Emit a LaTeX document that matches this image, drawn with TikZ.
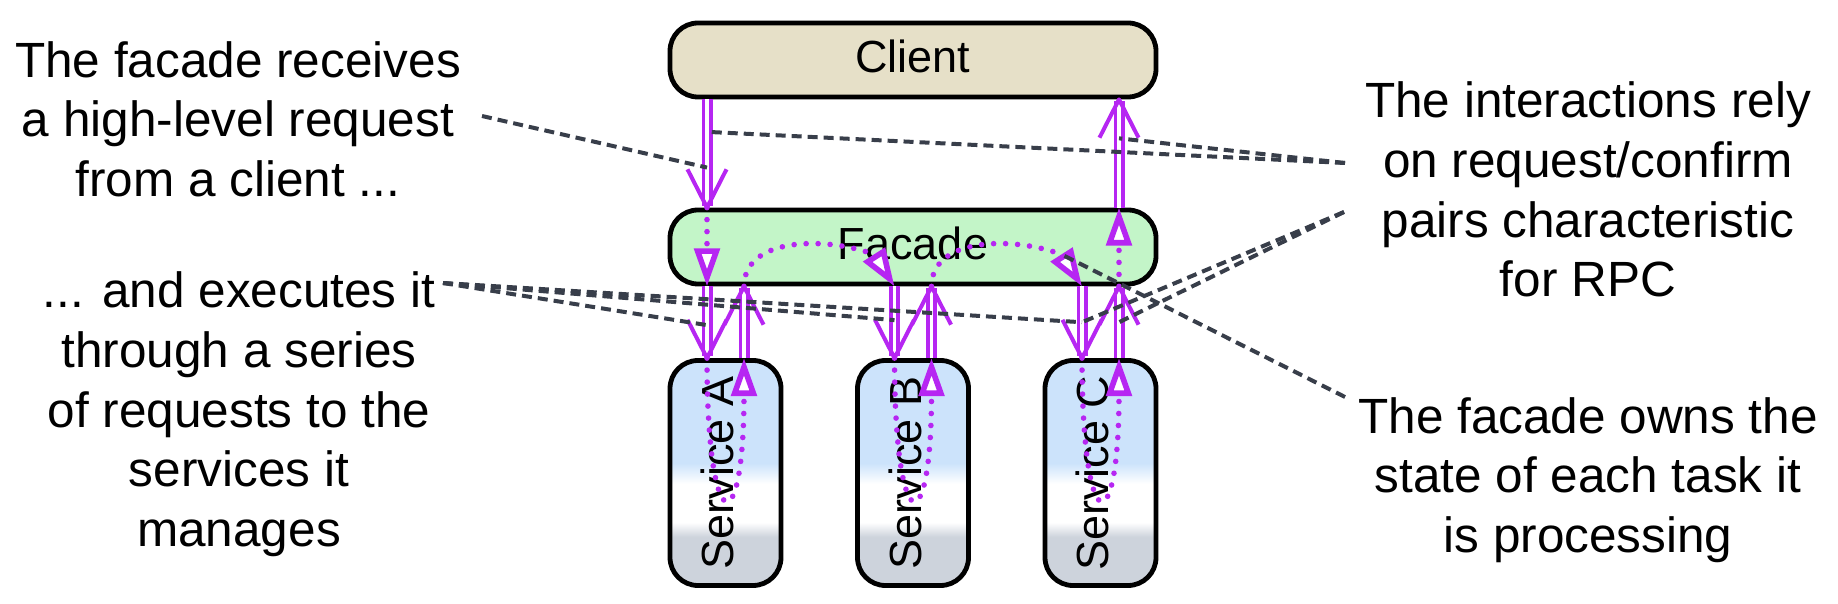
\documentclass[tikz,border=0pt]{standalone}
\usepackage{fontspec}
\setmainfont{Liberation Sans}
\usetikzlibrary{arrows.meta,calc}
\definecolor{msgc}{HTML}{B626F2}
\definecolor{notec}{HTML}{383E4A}
\definecolor{clientc}{HTML}{E6E0C8}
\definecolor{facadec}{HTML}{C3F5C8}
\definecolor{svcblue}{HTML}{CCE3FB}
\definecolor{svcgray}{HTML}{CDD3DC}
\pgfdeclareverticalshading{svcshade}{100bp}{color(0bp)=(svcgray); color(35.8bp)=(svcgray); color(39bp)=(white); color(47.6bp)=(white); color(52.2bp)=(svcblue); color(100bp)=(svcblue)}
\newcommand{\msgarrow}[2]{%
  \draw[msgline] (#1) -- (#2);
  \draw[msghead] ($(#2)!21.5pt!27:(#1)$) -- (#2) -- ($(#2)!21.5pt!-27:(#1)$);
}
\begin{document}
\begin{tikzpicture}[x=0.5pt,y=-0.5pt,
  box/.style={draw=black, line width=2.4pt, rounded corners=14pt, inner sep=0pt,
    font=\fontsize{22.5pt}{27pt}\selectfont},
  wide/.style={box, minimum width=243pt, minimum height=37pt, text depth=4pt},
  svc/.style={box, minimum width=55.5pt, minimum height=112.5pt, shading=svcshade},
  note/.style={font=\fontsize{24.75pt}{29.8pt}\selectfont, align=center, inner sep=0pt, anchor=north},
  msgline/.style={draw=msgc, line width=1.8pt, double=white, double distance=1.9pt, shorten >=1pt},
  msghead/.style={draw=msgc, line width=2pt, line join=round},
  thread/.style={draw=msgc, line width=2.8pt, line cap=round, dash pattern=on 0pt off 6pt,
    -{Triangle[length=19pt, width=12.5pt, fill=white, line width=2.8pt]}},
  link/.style={draw=notec, line width=2pt, dash pattern=on 5pt off 3pt}
]
\useasboundingbox (0,0) rectangle (1838,604);

% boxes
\node[wide, fill=clientc] (client) at (913,60) {Client};
\node[wide, fill=facadec] (facade) at (913,247) {Facade};
\node[svc] (svcA) at (725.5,473) {\rotatebox{90}{Service A\rule[-8pt]{0pt}{0pt}}};
\node[svc] (svcB) at (913,473) {\rotatebox{90}{Service B\rule[-8pt]{0pt}{0pt}}};
\node[svc] (svcC) at (1100.5,473) {\rotatebox{90}{Service C\rule[-8pt]{0pt}{0pt}}};

% notes
\node[note] (noteA) at (238,41) {The facade receives\\a high-level request\\from a client ...};
\node[note] (noteB) at (239,271.6) {... and executes it\\through a series\\of requests to the\\services it\\manages};
\node[note] (noteC) at (1588,81.6) {The interactions rely\\on request/confirm\\pairs characteristic\\for RPC};
\node[note] (noteD) at (1588,397) {The facade owns the\\state of each task it\\is processing};

% columns
\coordinate (aDn) at ($(svcA.center)+(-18.5,0)$);
\coordinate (aUp) at ($(svcA.center)+(18.5,0)$);
\coordinate (bDn) at ($(svcB.center)+(-18.5,0)$);
\coordinate (bUp) at ($(svcB.center)+(18.5,0)$);
\coordinate (cDn) at ($(svcC.center)+(-18.5,0)$);
\coordinate (cUp) at ($(svcC.center)+(18.5,0)$);

% message end points
\coordinate (m1s) at (client.south -| aDn);
\coordinate (m1e) at (facade.north -| aDn);
\coordinate (m2s) at (facade.south -| aDn);
\coordinate (m2e) at (svcA.north -| aDn);
\coordinate (m3s) at (svcA.north -| aUp);
\coordinate (m3e) at (facade.south -| aUp);
\coordinate (m4s) at (facade.south -| bDn);
\coordinate (m4e) at (svcB.north -| bDn);
\coordinate (m5s) at (svcB.north -| bUp);
\coordinate (m5e) at (facade.south -| bUp);
\coordinate (m6s) at (facade.south -| cDn);
\coordinate (m6e) at (svcC.north -| cDn);
\coordinate (m7s) at (svcC.north -| cUp);
\coordinate (m7e) at (facade.south -| cUp);
\coordinate (m8s) at (facade.north -| cUp);
\coordinate (m8e) at (client.south -| cUp);

% messages
\msgarrow{m1s}{m1e}
\msgarrow{m2s}{m2e}
\msgarrow{m3s}{m3e}
\msgarrow{m4s}{m4e}
\msgarrow{m5s}{m5e}
\msgarrow{m6s}{m6e}
\msgarrow{m7s}{m7e}
\msgarrow{m8s}{m8e}

% threads of control
\draw[thread] (m1e) -- (m2s);
\draw[thread] (m2e) .. controls +(0,185) and +(0,185) .. (m3s);
\draw[thread] (m3e) .. controls +(0,-48) and +(-51.5,-19) .. ($(m4s)+(-20.5,-32)$) -- (m4s);
\draw[thread] (m4e) .. controls +(0,185) and +(0,185) .. (m5s);
\draw[thread] (m5e) .. controls +(0,-48) and +(-51.5,-19) .. ($(m6s)+(-20.5,-32)$) -- (m6s);
\draw[thread] (m6e) .. controls +(0,185) and +(0,185) .. (m7s);
\draw[thread] (m7e) -- (m8s);

% note links
\coordinate (n1) at (482,116);
\coordinate (n2) at (443,283);
\coordinate (n3) at (1345,163);
\coordinate (n4) at (1344,212);
\coordinate (n5) at (1345,397);
\coordinate (st) at ($(m6s)+(-20.5,-32)$);
\draw[link] (n1) -- ($(m1s)!0.63!(m1e)$);
\draw[link] (n2) -- ($(m2s)!0.54!(m2e)$);
\draw[link] (n2) -- ($(m4s)!0.47!(m4e)$);
\draw[link] (n2) -- ($(m6s)!0.5!(m6e)$);
\draw[link] (n3) -- ($(m1s)!0.30!(m1e)$);
\draw[link] (n3) -- ($(m8s)!0.64!(m8e)$);
\draw[link] (n4) -- ($(m6s)!0.5!(m6e)$);
\draw[link] (n4) -- ($(m7s)!0.5!(m7e)$);
\draw[link] (n5) -- (st);
\end{tikzpicture}
\end{document}
